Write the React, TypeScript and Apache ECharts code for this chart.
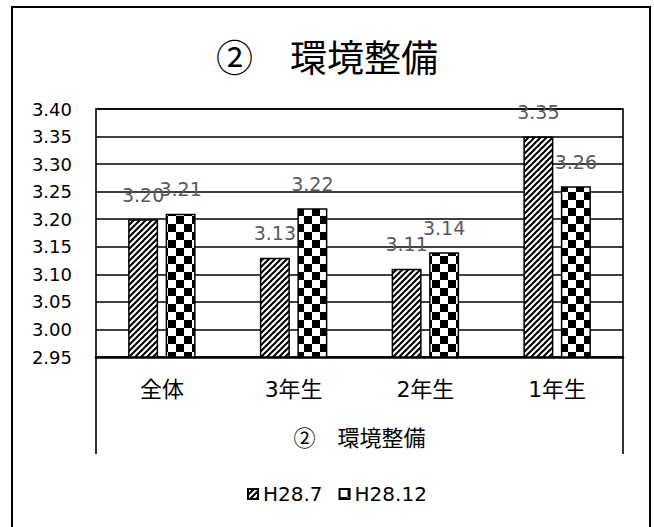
import { useEffect, useRef } from "react";
import * as echarts from "echarts";

const chartTitle = "②　環境整備";
const axisName = "②　環境整備";
const categories = ["全体", "3年生", "2年生", "1年生"];
const seriesNames = ["H28.7", "H28.12"];
const valuesH28_7 = [3.2, 3.13, 3.11, 3.35];
const valuesH28_12 = [3.21, 3.22, 3.14, 3.26];
const yMin = 2.95;
const yMax = 3.4;
const yStep = 0.05;

const NUM_FONT = "'DejaVu Sans', 'Noto Sans CJK JP', sans-serif";
const CJK_FONT = "'Noto Sans CJK JP', sans-serif";

function makeHatch(): string {
  const s = 6;
  const c = document.createElement("canvas");
  c.width = s;
  c.height = s;
  const ctx = c.getContext("2d")!;
  ctx.fillStyle = "#fff";
  ctx.fillRect(0, 0, s, s);
  ctx.strokeStyle = "#000";
  ctx.lineWidth = 2;
  ctx.beginPath();
  ctx.moveTo(-1, s + 1);
  ctx.lineTo(s + 1, -1);
  ctx.moveTo(-1, 1);
  ctx.lineTo(1, -1);
  ctx.moveTo(s - 1, s + 1);
  ctx.lineTo(s + 1, s - 1);
  ctx.stroke();
  return c.toDataURL();
}

function makeChecker(): string {
  const cell = 8;
  const c = document.createElement("canvas");
  c.width = cell * 2;
  c.height = cell * 2;
  const ctx = c.getContext("2d")!;
  ctx.fillStyle = "#fff";
  ctx.fillRect(0, 0, cell * 2, cell * 2);
  ctx.fillStyle = "#000";
  ctx.fillRect(cell, 0, cell, cell);
  ctx.fillRect(0, cell, cell, cell);
  return c.toDataURL();
}

export default function App() {
  const ref = useRef<HTMLDivElement>(null);
  useEffect(() => {
    if (!ref.current) return;
    const chart = echarts.init(ref.current, null, { renderer: "svg" });
    const hatch = { image: makeHatch(), repeat: "repeat", imageWidth: 6, imageHeight: 6 } as any;
    const checker = { image: makeChecker(), repeat: "repeat", imageWidth: 16, imageHeight: 16 } as any;
    const labelCfg = {
      show: true,
      position: "top",
      distance: 15,
      color: "#595959",
      fontSize: 19,
      fontFamily: NUM_FONT,
      formatter: (p: any) => Number(p.value).toFixed(2),
    };
    chart.setOption({
      animation: false,
      backgroundColor: "#fff",
      title: {
        text: chartTitle,
        left: "center",
        top: 32,
        textStyle: { fontSize: 37, fontWeight: "normal", color: "#000", fontFamily: CJK_FONT },
      },
      legend: {
        data: seriesNames,
        top: 479,
        left: 242,
        itemWidth: 10,
        itemHeight: 10,
        itemGap: 16,
        icon: "rect",
        textStyle: { fontSize: 20, color: "#000", fontFamily: NUM_FONT },
      },
      grid: { left: 96, right: 31, top: 109, bottom: 170, containLabel: false },
      xAxis: {
        type: "category",
        data: categories,
        axisLine: { show: true, lineStyle: { color: "#000", width: 2.5 } },
        axisTick: { show: false },
        axisLabel: { fontSize: 22, color: "#000", margin: 21, fontFamily: NUM_FONT },
        name: axisName,
        nameLocation: "middle",
        nameGap: 68,
        nameTextStyle: { fontSize: 22, color: "#000", fontFamily: CJK_FONT },
      },
      yAxis: {
        type: "value",
        min: yMin,
        max: yMax,
        interval: yStep,
        axisLine: { show: false },
        axisTick: { show: false },
        splitLine: { show: true, lineStyle: { color: "#000", width: 1.6 } },
        axisLabel: {
          fontSize: 18,
          color: "#000",
          margin: 24,
          fontFamily: NUM_FONT,
          formatter: (v: number) => v.toFixed(2),
        },
      },
      graphic: [
        {
          type: "rect",
          shape: { x: 12, y: 7, width: 638, height: 540 },
          style: { fill: "none", stroke: "#000", lineWidth: 2 },
          silent: true,
        },
        {
          type: "polyline",
          shape: { points: [[96, 454], [96, 109], [623, 109], [623, 454]] },
          style: { fill: "none", stroke: "#000", lineWidth: 1.6 },
          silent: true,
        },
      ],
      series: [
        {
          name: seriesNames[0],
          type: "bar",
          data: valuesH28_7,
          barWidth: 30,
          barGap: "25%",
          itemStyle: { color: hatch, borderColor: "#000", borderWidth: 1.5 },
          label: labelCfg,
        },
        {
          name: seriesNames[1],
          type: "bar",
          data: valuesH28_12,
          barWidth: 30,
          itemStyle: { color: checker, borderColor: "#000", borderWidth: 1.5 },
          label: labelCfg,
        },
      ],
    });
    return () => chart.dispose();
  }, []);
  return (
    <div
      ref={ref}
      style={{ position: "fixed", left: 0, top: 0, width: 654, height: 527 }}
    />
  );
}
